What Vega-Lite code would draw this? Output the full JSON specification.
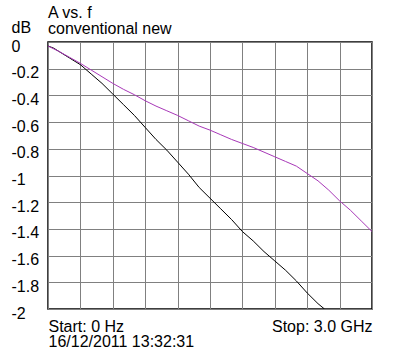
{
  "$schema": "https://vega.github.io/schema/vega-lite/v6.json",
  "width": 324,
  "height": 267,
  "autosize": {"type": "none"},
  "padding": {"left": 48, "top": 42, "right": 23, "bottom": 45},
  "background": "white",
  "config": {
    "font": "Liberation Sans",
    "view": {"stroke": "black", "strokeWidth": 1.5},
    "axis": {"grid": true, "gridColor": "#808080", "gridOpacity": 1, "gridWidth": 1, "domain": false, "ticks": false, "tickSize": 0, "labelFont": "Liberation Sans", "labelFontSize": 16, "labelColor": "black", "titleFont": "Liberation Sans", "titleFontSize": 16, "titleFontWeight": "normal", "titleColor": "black"}
  },
  "title": {
    "text": ["A vs. f", "conventional new"],
    "anchor": "start",
    "frame": "group",
    "font": "Liberation Sans",
    "fontSize": 16,
    "fontWeight": "normal",
    "color": "black",
    "lineHeight": 16,
    "offset": 0,
    "dy": 17
  },
  "data": {
    "values": [
      {"f": 0, "dB": -0.03, "s": "conventional"},
      {"f": 0.05, "dB": -0.045, "s": "conventional"},
      {"f": 0.1, "dB": -0.07, "s": "conventional"},
      {"f": 0.2, "dB": -0.12, "s": "conventional"},
      {"f": 0.3, "dB": -0.17, "s": "conventional"},
      {"f": 0.4, "dB": -0.24, "s": "conventional"},
      {"f": 0.5, "dB": -0.31, "s": "conventional"},
      {"f": 0.6, "dB": -0.39, "s": "conventional"},
      {"f": 0.7, "dB": -0.47, "s": "conventional"},
      {"f": 0.8, "dB": -0.55, "s": "conventional"},
      {"f": 0.9, "dB": -0.64, "s": "conventional"},
      {"f": 1.0, "dB": -0.73, "s": "conventional"},
      {"f": 1.1, "dB": -0.81, "s": "conventional"},
      {"f": 1.2, "dB": -0.9, "s": "conventional"},
      {"f": 1.3, "dB": -0.99, "s": "conventional"},
      {"f": 1.4, "dB": -1.09, "s": "conventional"},
      {"f": 1.5, "dB": -1.17, "s": "conventional"},
      {"f": 1.6, "dB": -1.25, "s": "conventional"},
      {"f": 1.7, "dB": -1.33, "s": "conventional"},
      {"f": 1.8, "dB": -1.42, "s": "conventional"},
      {"f": 1.9, "dB": -1.49, "s": "conventional"},
      {"f": 2.0, "dB": -1.57, "s": "conventional"},
      {"f": 2.1, "dB": -1.64, "s": "conventional"},
      {"f": 2.2, "dB": -1.71, "s": "conventional"},
      {"f": 2.3, "dB": -1.79, "s": "conventional"},
      {"f": 2.4, "dB": -1.88, "s": "conventional"},
      {"f": 2.5, "dB": -1.96, "s": "conventional"},
      {"f": 2.56, "dB": -2.0, "s": "conventional"},
      {"f": 0, "dB": -0.03, "s": "new"},
      {"f": 0.1, "dB": -0.07, "s": "new"},
      {"f": 0.2, "dB": -0.115, "s": "new"},
      {"f": 0.3, "dB": -0.16, "s": "new"},
      {"f": 0.4, "dB": -0.21, "s": "new"},
      {"f": 0.5, "dB": -0.26, "s": "new"},
      {"f": 0.6, "dB": -0.31, "s": "new"},
      {"f": 0.7, "dB": -0.355, "s": "new"},
      {"f": 0.8, "dB": -0.395, "s": "new"},
      {"f": 0.9, "dB": -0.44, "s": "new"},
      {"f": 1.0, "dB": -0.48, "s": "new"},
      {"f": 1.1, "dB": -0.515, "s": "new"},
      {"f": 1.2, "dB": -0.55, "s": "new"},
      {"f": 1.3, "dB": -0.59, "s": "new"},
      {"f": 1.4, "dB": -0.63, "s": "new"},
      {"f": 1.5, "dB": -0.66, "s": "new"},
      {"f": 1.6, "dB": -0.695, "s": "new"},
      {"f": 1.7, "dB": -0.73, "s": "new"},
      {"f": 1.8, "dB": -0.76, "s": "new"},
      {"f": 1.9, "dB": -0.79, "s": "new"},
      {"f": 2.0, "dB": -0.825, "s": "new"},
      {"f": 2.1, "dB": -0.86, "s": "new"},
      {"f": 2.2, "dB": -0.895, "s": "new"},
      {"f": 2.3, "dB": -0.93, "s": "new"},
      {"f": 2.4, "dB": -0.985, "s": "new"},
      {"f": 2.5, "dB": -1.04, "s": "new"},
      {"f": 2.6, "dB": -1.11, "s": "new"},
      {"f": 2.7, "dB": -1.19, "s": "new"},
      {"f": 2.8, "dB": -1.26, "s": "new"},
      {"f": 2.9, "dB": -1.34, "s": "new"},
      {"f": 3.0, "dB": -1.42, "s": "new"}
    ]
  },
  "mark": {"type": "line", "strokeWidth": 1, "clip": true},
  "encoding": {
    "x": {
      "field": "f", "type": "quantitative",
      "scale": {"domain": [0, 3], "nice": false, "zero": false},
      "axis": {
        "values": [0, 0.3, 0.6, 0.9, 1.2, 1.5, 1.8, 2.1, 2.4, 2.7, 3],
        "labelExpr": "datum.value == 0 ? 'Start: 0 Hz' : (datum.value == 3 ? 'Stop: 3.0 GHz' : '')",
        "labelFlush": true,
        "labelBaseline": "alphabetic",
        "labelPadding": 22,
        "title": "16/12/2011 13:32:31",
        "titleAnchor": "start",
        "titleAlign": "left",
        "titleBaseline": "alphabetic",
        "titleX": 0,
        "titleY": 37.5
      }
    },
    "y": {
      "field": "dB", "type": "quantitative",
      "scale": {"domain": [-2, 0], "nice": false, "zero": false},
      "axis": {
        "values": [0, -0.2, -0.4, -0.6, -0.8, -1, -1.2, -1.4, -1.6, -1.8, -2],
        "labelExpr": "datum.value == 0 ? ' 0' : '-' + format(abs(datum.value), '~g')",
        "labelAlign": "left",
        "labelBaseline": "alphabetic",
        "labelPadding": 37,
        "labelOffset": 9,
        "title": "dB",
        "titleAngle": 0,
        "titleAlign": "left",
        "titleBaseline": "alphabetic",
        "titleX": -37,
        "titleY": -9.5
      }
    },
    "color": {
      "field": "s", "type": "nominal",
      "scale": {"domain": ["conventional", "new"], "range": ["#000000", "#a838b8"]},
      "legend": null
    }
  }
}
